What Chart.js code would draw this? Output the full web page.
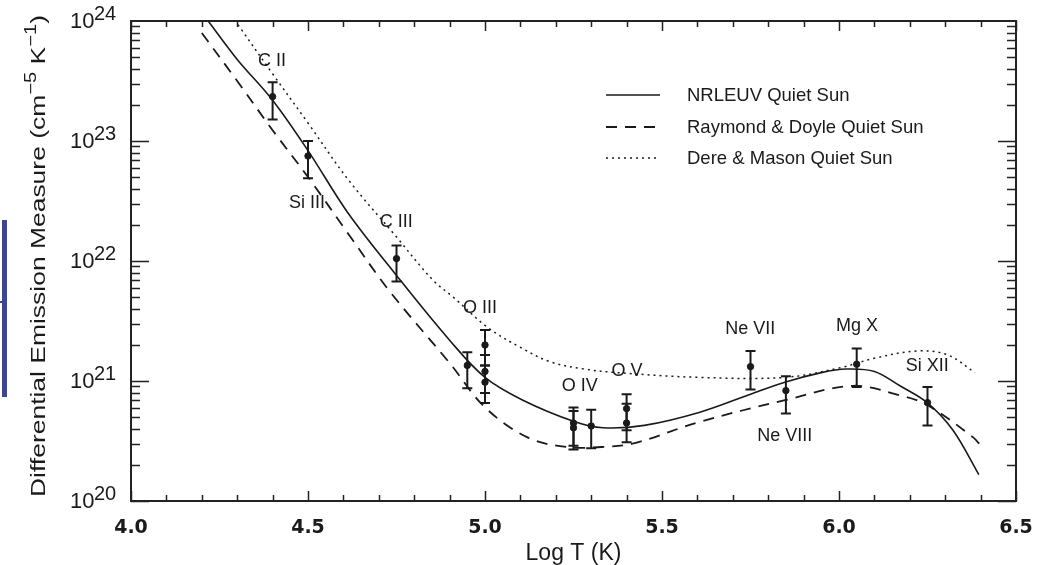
<!DOCTYPE html>
<html>
<head>
<meta charset="utf-8">
<script src="https://cdn.jsdelivr.net/npm/chart.js@4/dist/chart.umd.min.js"></script>
<style>
  html, body { margin: 0; padding: 0; background: #fff; }
  #wrap { width: 1049px; height: 565px; position: relative; }
</style>
</head>
<body>
<div id="wrap"><canvas id="chart"></canvas></div>
<script>
// model curves: log T and log10 of the DEM
const nrlT = [4.218, 4.30, 4.40, 4.50, 4.613, 4.75, 4.90, 5.00, 5.107, 5.254, 5.333, 5.45, 5.607, 5.75, 5.847, 5.95, 6.02, 6.10, 6.172, 6.249, 6.322, 6.395];
const nrlLogEM = [24.0, 23.68, 23.34, 22.92, 22.40, 21.88, 21.34, 21.03, 20.84, 20.66, 20.61, 20.63, 20.74, 20.89, 20.99, 21.07, 21.10, 21.08, 20.96, 20.82, 20.59, 20.22];

const rdT = [4.20, 4.30, 4.40, 4.50, 4.613, 4.73, 4.90, 5.00, 5.12, 5.23, 5.33, 5.42, 5.607, 5.847, 6.04, 6.172, 6.249, 6.379, 6.404];
const rdLogEM = [23.90, 23.50, 23.09, 22.70, 22.23, 21.75, 21.15, 20.78, 20.53, 20.45, 20.45, 20.48, 20.66, 20.84, 20.96, 20.88, 20.80, 20.53, 20.45];

const dmT = [4.302, 4.40, 4.50, 4.613, 4.75, 4.853, 4.91, 5.006, 5.10, 5.184, 5.28, 5.373, 5.607, 5.847, 6.003, 6.10, 6.22, 6.305, 6.384];
const dmLogEM = [23.97, 23.56, 23.15, 22.68, 22.20, 21.84, 21.70, 21.45, 21.28, 21.16, 21.10, 21.07, 21.03, 21.03, 21.11, 21.19, 21.25, 21.22, 21.07];

// observed points with error bars
const obsT = [4.40, 4.50, 4.75, 4.95, 5.00, 5.00, 5.00, 5.25, 5.25, 5.30, 5.40, 5.40, 5.75, 5.85, 6.05, 6.25];
const obsLogEM = [23.37, 22.875, 22.02, 21.13, 21.30, 21.08, 20.99, 20.65, 20.61, 20.625, 20.77, 20.65, 21.12, 20.92, 21.14, 20.82];
const obsLow = [23.18, 22.69, 21.83, 20.94, 21.13, 20.90, 20.817, 20.46, 20.43, 20.44, 20.59, 20.49, 20.93, 20.73, 20.95, 20.63];
const obsHigh = [23.49, 23.00, 22.13, 21.24, 21.425, 21.217, 21.13, 20.78, 20.75, 20.76, 20.89, 20.81, 21.25, 21.04, 21.27, 20.95];

const ionNames = ['C II', 'Si III', 'C III', 'O III', 'O IV', 'O V', 'Ne VII', 'Mg X', 'Si XII', 'Ne VIII'];
const ionT = [4.398, 4.497, 4.749, 4.986, 5.268, 5.401, 5.749, 6.051, 6.249, 5.847];
const ionLogEM = [23.667, 22.483, 22.325, 21.608, 20.958, 21.083, 21.433, 21.458, 21.125, 20.542];

const xTickLabels = ['4.0', '4.5', '5.0', '5.5', '6.0', '6.5'];
const yDecades = [20, 21, 22, 23, 24];
const seriesNames = ['NRLEUV Quiet Sun', 'Raymond & Doyle Quiet Sun', 'Dere & Mason Quiet Sun'];

const pts = (xs, ls) => xs.map((x, i) => ({ x: x, y: Math.pow(10, ls[i]) }));
const INK = '#1a1a1a';

const framePlugin = {
  id: 'frame',
  afterDatasetsDraw(chart) {
    const ctx = chart.ctx;
    const xs = chart.scales.x, ys = chart.scales.y;
    ctx.save();
    // error bars
    ctx.strokeStyle = INK;
    ctx.lineWidth = 2;
    obsT.forEach((t, i) => {
      const px = xs.getPixelForValue(t);
      const top = ys.getPixelForValue(Math.pow(10, obsHigh[i]));
      const bot = ys.getPixelForValue(Math.pow(10, obsLow[i]));
      ctx.beginPath();
      ctx.moveTo(px, top); ctx.lineTo(px, bot);
      ctx.moveTo(px - 5, top); ctx.lineTo(px + 5, top);
      ctx.moveTo(px - 5, bot); ctx.lineTo(px + 5, bot);
      ctx.stroke();
    });
    ctx.restore();
  },
  afterDraw(chart) {
    const ctx = chart.ctx, a = chart.chartArea;
    const xs = chart.scales.x, ys = chart.scales.y;
    ctx.save();
    ctx.strokeStyle = '#222';
    ctx.lineWidth = 2;
    ctx.strokeRect(a.left, a.top, a.right - a.left, a.bottom - a.top);

    // inward ticks
    ctx.lineWidth = 1.5;
    ctx.beginPath();
    for (let k = 0; k <= 25; k++) {
      const v = 4 + k * 0.1;
      const px = Math.round(xs.getPixelForValue(v)) + 0.5;
      const len = k % 5 === 0 ? 10 : 6;
      ctx.moveTo(px, a.bottom); ctx.lineTo(px, a.bottom - len);
      ctx.moveTo(px, a.top); ctx.lineTo(px, a.top + len);
    }
    for (let d = 20; d <= 23; d++) {
      for (let m = 1; m <= 9; m++) {
        const py = Math.round(ys.getPixelForValue(m * Math.pow(10, d))) + 0.5;
        const len = m === 1 ? 18 : 9;
        ctx.moveTo(a.left, py); ctx.lineTo(a.left + len, py);
        ctx.moveTo(a.right, py); ctx.lineTo(a.right - len, py);
      }
    }
    ctx.stroke();

    // x tick labels
    ctx.fillStyle = INK;
    ctx.font = 'bold 19px "DejaVu Sans"';
    ctx.textAlign = 'center';
    ctx.textBaseline = 'alphabetic';
    xTickLabels.forEach(s => {
      ctx.fillText(s, xs.getPixelForValue(parseFloat(s)), a.bottom + 32);
    });
    ctx.font = '23px "Liberation Sans"';
    ctx.fillText('Log T (K)', (a.left + a.right) / 2, 560);

    // y tick labels 10^n
    ctx.textAlign = 'left';
    yDecades.forEach(d => {
      const py = ys.getPixelForValue(Math.pow(10, d));
      ctx.font = '22px "Liberation Sans"';
      ctx.fillText('10', 70, py + 7);
      ctx.font = '20px "Liberation Sans"';
      ctx.fillText(String(d), 94, py - 1);
    });

    // y axis title, stretched along its length like the original
    const parts = [
      ['Differential Emission Measure (cm', 21, 0],
      ['\u22125', 16, 9],
      [' K', 21, 0],
      ['\u22121', 16, 9],
      [')', 21, 0]
    ];
    let total = 0;
    parts.forEach(p => { ctx.font = p[1] + 'px "Liberation Sans"'; p.push(ctx.measureText(p[0]).width); total += p[3]; });
    ctx.translate(45, 256);
    ctx.rotate(-Math.PI / 2);
    ctx.scale(482 / total, 1);
    let cx = -total / 2;
    parts.forEach(p => {
      ctx.font = p[1] + 'px "Liberation Sans"';
      ctx.fillText(p[0], cx, -p[2]);
      cx += p[3];
    });
    ctx.setTransform(1, 0, 0, 1, 0, 0);

    // ion labels
    ctx.font = '18px "Liberation Sans"';
    ctx.textAlign = 'center';
    ctx.textBaseline = 'middle';
    ionNames.forEach((n, i) => {
      ctx.fillText(n, xs.getPixelForValue(ionT[i]), ys.getPixelForValue(Math.pow(10, ionLogEM[i])));
    });

    // legend
    const dashes = [[], [11, 8], [2, 4]];
    const rows = [95, 127, 158];
    ctx.textAlign = 'left';
    ctx.font = '18.5px "Liberation Sans"';
    rows.forEach((y, i) => {
      ctx.beginPath();
      ctx.setLineDash(dashes[i]);
      ctx.lineWidth = i === 1 ? 2.2 : 1.6;
      ctx.strokeStyle = INK;
      ctx.moveTo(606, y); ctx.lineTo(660, y);
      ctx.stroke();
      ctx.setLineDash([]);
      ctx.fillText(seriesNames[i], 687, y + 1);
    });

    // slide artefact at the far left
    ctx.fillStyle = '#3d4596';
    ctx.fillRect(2, 220, 5, 177);
    ctx.fillRect(0, 301, 3, 2);
    ctx.restore();
  }
};

const ctx = document.getElementById('chart').getContext('2d');
const chart = new Chart(ctx, {
  type: 'line',
  data: {
    datasets: [
      {
        label: seriesNames[0],
        data: pts(nrlT, nrlLogEM),
        borderColor: INK, borderWidth: 1.6, pointRadius: 0,
        tension: 0.35, fill: false
      },
      {
        label: seriesNames[1],
        data: pts(rdT, rdLogEM),
        borderColor: INK, borderWidth: 1.8, borderDash: [11, 8], pointRadius: 0,
        tension: 0.35, fill: false
      },
      {
        label: seriesNames[2],
        data: pts(dmT, dmLogEM),
        borderColor: INK, borderWidth: 1.5, borderDash: [2, 4], pointRadius: 0,
        tension: 0.35, fill: false
      },
      {
        label: 'observed',
        type: 'scatter',
        data: pts(obsT, obsLogEM),
        pointRadius: 3.2, pointBackgroundColor: INK, pointBorderColor: INK, showLine: false
      }
    ]
  },
  options: {
    responsive: true,
    maintainAspectRatio: false,
    animation: false,
    layout: { padding: { left: 131, right: 33, top: 21, bottom: 64 } },
    plugins: { legend: { display: false }, tooltip: { enabled: false } },
    scales: {
      x: { type: 'linear', min: 4.0, max: 6.5, display: false },
      y: { type: 'logarithmic', min: 1e20, max: 1e24, display: false }
    }
  },
  plugins: [framePlugin]
});
</script>
</body>
</html>
